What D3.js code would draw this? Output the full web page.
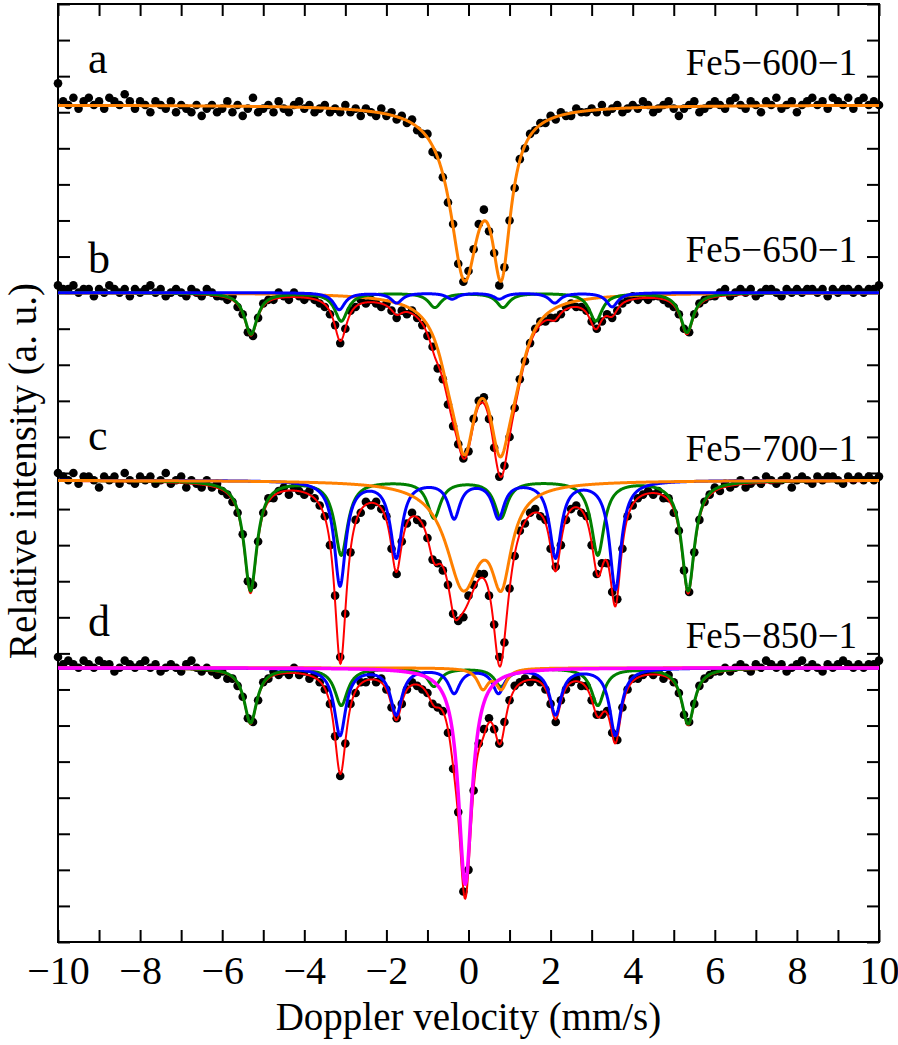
<!DOCTYPE html>
<html>
<head>
<meta charset="utf-8">
<script src="https://cdn.jsdelivr.net/npm/d3@7"></script>
<style>
  body { margin: 0; background: #fff; }
  text { font-family: "Liberation Serif", "Times New Roman", serif; fill: #000; }
</style>
</head>
<body>
<svg id="chart" width="898" height="1045"></svg>
<script>
// ---------------- DATA ----------------
// velocity channels (mm/s)
const velocityStart = -10, velocityStep = 0.125;

// measured points, relative to each spectrum's baseline (1 unit = 1 tick of the y axis)
const countsA = [0.6,0.1,0.0,0.2,-0.1,0.1,0.2,0.0,0.1,-0.1,0.2,0.1,0.0,0.3,0.1,-0.1,
  0.1,0.0,-0.2,0.1,0.0,-0.1,0.1,-0.2,0.0,-0.1,-0.2,0.0,-0.3,-0.1,0.0,
  -0.2,-0.1,0.1,-0.2,0.0,-0.3,-0.1,0.2,-0.2,-0.1,0.0,-0.2,0.1,-0.1,-0.2,
  0.0,0.1,
  -0.1,0.0,-0.2,-0.1,0.0,-0.2,-0.1,-0.2,
  0.0,-0.2,-0.1,-0.3,-0.1,-0.2,-0.3,-0.1,
  -0.3,-0.2,-0.4,-0.3,-0.5,-0.4,-0.7,-0.8,
  -0.8,-1.3,-1.4,-2.0,-2.7,-3.3,-4.4,-4.9,
  -4.6,-4.0,-3.3,-2.9,-3.5,-4.1,-5.0,-4.5,
  -3.2,-2.3,-1.5,-1.2,-0.8,-0.7,-0.5,-0.5,
  -0.3,-0.4,-0.2,-0.3,-0.3,-0.1,-0.2,-0.2,
  -0.1,-0.2,0.0,-0.2,-0.1,0.0,-0.2,-0.1,0.0,
  -0.1,0.1,0.0,-0.2,-0.1,0.0,0.1,-0.1,-0.3,-0.1,0.0,0.1,-0.2,-0.1,0.0,
  0.1,0.0,-0.1,0.1,0.2,0.0,-0.1,0.1,0.0,-0.2,0.1,0.0,0.2,-0.1,0.0,
  0.1,-0.2,0.0,0.1,0.2,0.0,0.1,-0.1,0.2,0.1,0.0,0.2,-0.1,0.1,0.2,0.0,0.1,0.0];

const countsB = [0.2,0.1,0.1,0.2,0.0,0.1,0.1,-0.1,0.1,0.0,0.2,0.1,0.0,0.1,-0.1,0.1,0.0,0.1,0.2,0.0,
  0.1,-0.1,0.0,0.1,0.0,-0.1,0.1,0.0,-0.1,0.1,0.0,-0.1,
  -0.1,-0.2,-0.1,-0.4,-0.6,-1.1,-1.2,-0.7,
  -0.3,-0.2,-0.2,0.0,-0.1,-0.2,0.0,-0.1,
  -0.2,-0.1,-0.2,-0.3,-0.4,-0.6,-0.9,-1.4,
  -1.0,-0.5,-0.4,-0.2,-0.3,-0.2,-0.3,-0.4,
  -0.3,-0.5,-0.7,-0.5,-0.6,-0.5,-0.7,-0.9,
  -1.2,-1.5,-2.1,-2.4,-3.1,-3.7,-4.2,-4.6,
  -4.4,-3.5,-3.0,-2.9,-3.5,-4.3,-5.1,-4.8,
  -4.0,-3.2,-2.4,-1.9,-1.4,-1.0,-0.8,-0.8,
  -0.7,-0.7,-0.6,-0.4,-0.3,-0.4,-0.4,-0.5,
  -0.8,-1.0,-0.8,-0.6,-0.7,-0.5,-0.3,-0.2,
  -0.1,-0.2,-0.1,-0.2,-0.1,-0.1,-0.2,-0.3,
  -0.4,-0.6,-1.0,-1.1,-0.6,-0.3,-0.2,-0.1,-0.1,
  0.0,0.1,-0.1,0.0,0.1,0.0,0.1,-0.1,0.0,0.1,0.1,0.0,-0.1,0.1,0.0,0.1,
  0.0,0.1,0.1,0.0,0.1,-0.1,0.1,0.0,0.1,0.1,0.0,0.1,0.0,0.1,0.1,0.2];

const countsC = [0.2,0.1,0.0,0.2,-0.1,0.1,0.1,0.0,-0.2,0.1,0.0,0.1,-0.1,0.2,0.0,-0.1,0.1,0.0,0.1,-0.1,
  0.0,0.2,-0.1,0.0,0.1,-0.2,0.0,
  -0.1,-0.2,0.0,-0.2,-0.1,
  -0.3,-0.4,-0.6,-0.9,-1.5,-2.8,-2.9,-1.7,
  -0.9,-0.5,-0.5,-0.3,-0.2,-0.4,-0.2,-0.3,
  -0.4,-0.3,-0.5,-0.7,-1.0,-1.8,-3.2,-4.9,
  -3.7,-2.0,-1.1,-0.9,-0.6,-0.7,-0.6,-0.8,
  -1.0,-1.9,-2.6,-1.7,-1.2,-0.9,-1.1,-1.2,
  -1.6,-2.2,-2.3,-2.5,-2.9,-3.7,-3.9,-3.8,
  -3.2,-2.9,-2.6,-2.6,-3.2,-4.0,-4.9,-4.5,
  -3.0,-2.1,-1.4,-1.2,-0.9,-0.8,-1.0,-1.1,
  -1.9,-2.4,-1.8,-1.1,-0.8,-0.7,-0.9,-1.0,
  -1.8,-2.6,-2.3,-2.3,-3.1,-3.3,-1.9,-1.0,
  -0.7,-0.5,-0.4,-0.3,-0.4,-0.3,-0.5,-0.5,
  -0.9,-1.4,-2.5,-3.1,-2.0,-1.1,-0.6,-0.4,
  -0.2,-0.3,-0.1,-0.2,-0.1,0.0,-0.2,-0.1,0.0,
  -0.1,0.1,0.0,-0.1,0.0,0.1,-0.2,0.0,0.1,0.0,-0.1,0.1,
  0.0,0.1,0.1,0.0,-0.1,0.1,0.0,0.1,0.0,0.1,0.0,0.1];

const countsD = [0.3,0.1,0.2,0.1,0.0,0.2,0.1,0.0,0.2,0.1,0.1,-0.1,0.0,0.2,0.1,0.0,0.1,0.2,0.0,0.1,
  -0.1,0.0,0.1,0.0,-0.1,0.1,0.2,0.0,-0.1,
  0.0,-0.1,-0.2,
  -0.1,-0.3,-0.3,-0.5,-0.8,-1.4,-1.5,-0.9,
  -0.4,-0.3,-0.1,-0.2,-0.1,-0.2,0.0,-0.2,
  -0.1,-0.3,-0.2,-0.4,-0.6,-1.0,-1.9,-3.0,
  -2.1,-1.0,-0.7,-0.4,-0.4,-0.2,-0.4,-0.3,
  -0.6,-1.1,-1.4,-1.0,-0.6,-0.4,-0.5,-0.6,
  -0.7,-1.0,-1.1,-1.2,-1.8,-2.8,-4.0,-6.2,
  -5.6,-3.4,-2.1,-1.7,-1.4,-1.7,-2.1,-1.5,
  -0.9,-0.5,-0.4,-0.3,-0.4,-0.3,-0.4,-0.6,
  -1.0,-1.5,-0.9,-0.6,-0.4,-0.3,-0.5,-0.5,
  -0.9,-1.3,-1.3,-1.2,-1.8,-2.0,-1.1,-0.6,
  -0.3,-0.3,-0.2,-0.1,-0.2,-0.1,-0.3,-0.2,
  -0.4,-0.7,-1.3,-1.5,-1.0,-0.5,-0.3,-0.2,
  -0.1,-0.1,0.0,-0.1,0.0,
  0.1,0.0,-0.1,0.1,0.0,0.2,0.1,0.0,0.1,-0.1,0.0,0.1,0.2,0.0,
  0.1,0.0,-0.1,0.1,0.0,0.1,0.2,0.1,0.0,0.1,0.0,0.1,0.1,0.2];

// fitted sub-spectra: line positions (mm/s), depths (y units), half widths (mm/s)
const aOrangePos = [-0.1, 0.8],  aOrangeDepth = [4.52, 4.07], aOrangeHW = [0.42, 0.28];

const bOrangePos = [-0.09, 0.77, -0.46, 1.14], bOrangeDepth = [3.41, 3.47, 1.14, 1.14], bOrangeHW = [0.33, 0.33, 0.36, 0.36];
const bGreenPos  = [-5.3, -3.1, -0.82, 0.84, 3.1, 5.32], bGreenDepth = [1.15, 0.78, 0.4, 0.4, 0.78, 1.1];
const bBluePos   = [-3.15, -1.75, -0.4, 0.75, 2.1, 3.5], bBlueDepth  = [0.47, 0.28, 0.17, 0.17, 0.28, 0.39];

const cOrangePos = [-0.13, 0.8], cOrangeDepth = [2.84, 2.44], cOrangeHW = [0.5, 0.3];
const cGreenPos  = [-5.31, -3.1, -0.84, 0.79, 3.15, 5.35], cGreenDepth = [3.05, 2.05, 1.02, 1.02, 2.05, 3.05];
const cBluePos   = [-3.13, -1.76, -0.35, 0.73, 2.12, 3.58], cBlueDepth = [2.9, 2.1, 1.0, 1.0, 2.1, 3.0];

const dGreenPos  = [-5.31, -3.1, -0.84, 0.79, 3.15, 5.35], dGreenDepth = [1.52, 1.03, 0.5, 0.5, 1.03, 1.55];
const dBluePos   = [-3.13, -1.76, -0.35, 0.73, 2.12, 3.58], dBlueDepth = [1.86, 1.27, 0.67, 0.67, 1.27, 1.86];
const dOrangePos = [0.35, 0.8], dOrangeDepth = [0.55, 0.55];
const dMagentaPos = [-0.08], dMagentaDepth = [6.0];

const greenHW = 0.19, blueHW = 0.17, dOrangeHW = 0.16, dMagentaHW = 0.2;

const baselines = [23.2, 18.0, 12.8, 7.6];
const sampleNames = ["Fe5\u2212600\u22121", "Fe5\u2212650\u22121", "Fe5\u2212700\u22121", "Fe5\u2212850\u22121"];
const panelLetters = ["a", "b", "c", "d"];
const xTicks = [-10,-9,-8,-7,-6,-5,-4,-3,-2,-1,0,1,2,3,4,5,6,7,8,9,10];
const xLabel = "Doppler velocity (mm/s)";
const yLabel = "Relative intensity (a. u.)";

// ---------------- LAYOUT ----------------
const PX0 = 58, PX1 = 879, PY0 = 4, PY1 = 942;
const letterLevels = [24.09, 18.54, 13.64, 8.48];
const nameLevels = [24.03, 18.85, 13.33, 8.15];
const COL = { orange: "#ff8000", green: "#008000", blue: "#0000ff", red: "#ff0000", magenta: "#ff00ff" };

const x = d3.scaleLinear().domain([-10, 10]).range([PX0, PX1]);
const y = d3.scaleLinear().domain([0, 26]).range([PY1, PY0]);
const yTicks = d3.range(0, 27);

const svg = d3.select("#chart");

function component(pos, depth, hw) {
  return v => d3.sum(pos, (p, i) => {
    const w = Array.isArray(hw) ? hw[i] : hw;
    const t = (v - p) / w;
    return depth[i] / (1 + t * t);
  });
}

const spectra = [
  { counts: countsA, total: false,
    comps: [{ c: "orange", w: 3, f: component(aOrangePos, aOrangeDepth, aOrangeHW) }] },
  { counts: countsB, total: true,
    comps: [{ c: "orange", w: 3, f: component(bOrangePos, bOrangeDepth, bOrangeHW) },
            { c: "green", w: 3, f: component(bGreenPos, bGreenDepth, greenHW) },
            { c: "blue", w: 3, f: component(bBluePos, bBlueDepth, blueHW) }] },
  { counts: countsC, total: true,
    comps: [{ c: "green", w: 3, f: component(cGreenPos, cGreenDepth, greenHW) },
            { c: "blue", w: 3, f: component(cBluePos, cBlueDepth, blueHW) },
            { c: "orange", w: 3, f: component(cOrangePos, cOrangeDepth, cOrangeHW) }] },
  { counts: countsD, total: true,
    comps: [{ c: "green", w: 3, f: component(dGreenPos, dGreenDepth, greenHW) },
            { c: "blue", w: 3, f: component(dBluePos, dBlueDepth, blueHW) },
            { c: "orange", w: 3, f: component(dOrangePos, dOrangeDepth, dOrangeHW) },
            { c: "magenta", w: 3.5, f: component(dMagentaPos, dMagentaDepth, dMagentaHW) }] }
];

// clip
svg.append("defs").append("clipPath").attr("id", "clip")
  .append("rect").attr("x", PX0).attr("y", PY0).attr("width", PX1 - PX0).attr("height", PY1 - PY0);

// axes (ticks inward)
const fmt = d3.format("d");
const axB = svg.append("g").attr("transform", `translate(0,${PY1})`)
  .call(d3.axisBottom(x).tickValues(xTicks).tickSize(-12).tickPadding(14)
    .tickFormat(d => d % 2 === 0 ? fmt(d) : ""));
const axT = svg.append("g").attr("transform", `translate(0,${PY0})`)
  .call(d3.axisTop(x).tickValues(xTicks).tickSize(-12).tickFormat(""));
const axL = svg.append("g").attr("transform", `translate(${PX0},0)`)
  .call(d3.axisLeft(y).tickValues(yTicks).tickSize(-12).tickFormat(""));
const axR = svg.append("g").attr("transform", `translate(${PX1},0)`)
  .call(d3.axisRight(y).tickValues(yTicks).tickSize(-12).tickFormat(""));
[axB, axT, axL, axR].forEach(a => {
  a.select(".domain").remove();
  a.selectAll(".tick line").attr("stroke", "#000").attr("stroke-width", 2);
  a.selectAll(".tick text").attr("font-size", 40).attr("font-family", "Liberation Serif, serif").attr("fill", "#000");
});

// frame
svg.append("rect").attr("x", PX0).attr("y", PY0).attr("width", PX1 - PX0).attr("height", PY1 - PY0)
  .attr("fill", "none").attr("stroke", "#000").attr("stroke-width", 2);

// data points
spectra.forEach((s, k) => {
  svg.append("g").selectAll("circle")
    .data(s.counts.map((v, i) => [velocityStart + i * velocityStep, v]))
    .join("circle")
    .attr("cx", d => x(d[0]))
    .attr("cy", d => y(baselines[k] + d[1]))
    .attr("r", 4.3)
    .attr("fill", "#000");
});

// fitted curves
const grid = d3.range(0, 2001).map(i => -10 + i * 0.01);
const line = d3.line().x(d => x(d[0])).y(d => y(d[1]));
const curvesG = svg.append("g").attr("clip-path", "url(#clip)");
spectra.forEach((s, k) => {
  const off = baselines[k];
  if (s.total) {
    const tot = v => d3.sum(s.comps, c => c.f(v));
    curvesG.append("path").datum(grid.map(v => [v, off - tot(v)]))
      .attr("d", line).attr("fill", "none").attr("stroke", COL.red).attr("stroke-width", 2);
  }
  s.comps.forEach(c => {
    curvesG.append("path").datum(grid.map(v => [v, off - c.f(v)]))
      .attr("d", line).attr("fill", "none").attr("stroke", COL[c.c]).attr("stroke-width", c.w)
      .attr("stroke-linejoin", "round");
  });
});

// labels
panelLetters.forEach((t, k) => {
  svg.append("text").attr("x", 88).attr("y", y(letterLevels[k])).attr("font-size", 44).text(t);
});
sampleNames.forEach((t, k) => {
  svg.append("text").attr("x", 857).attr("y", y(nameLevels[k])).attr("text-anchor", "end")
    .attr("font-size", 37).text(t);
});
svg.append("text").attr("x", (PX0 + PX1) / 2).attr("y", 1030).attr("text-anchor", "middle")
  .attr("font-size", 39).text(xLabel);
svg.append("text").attr("transform", `translate(36,${471}) rotate(-90)`).attr("text-anchor", "middle")
  .attr("font-size", 39).text(yLabel);
</script>
</body>
</html>
